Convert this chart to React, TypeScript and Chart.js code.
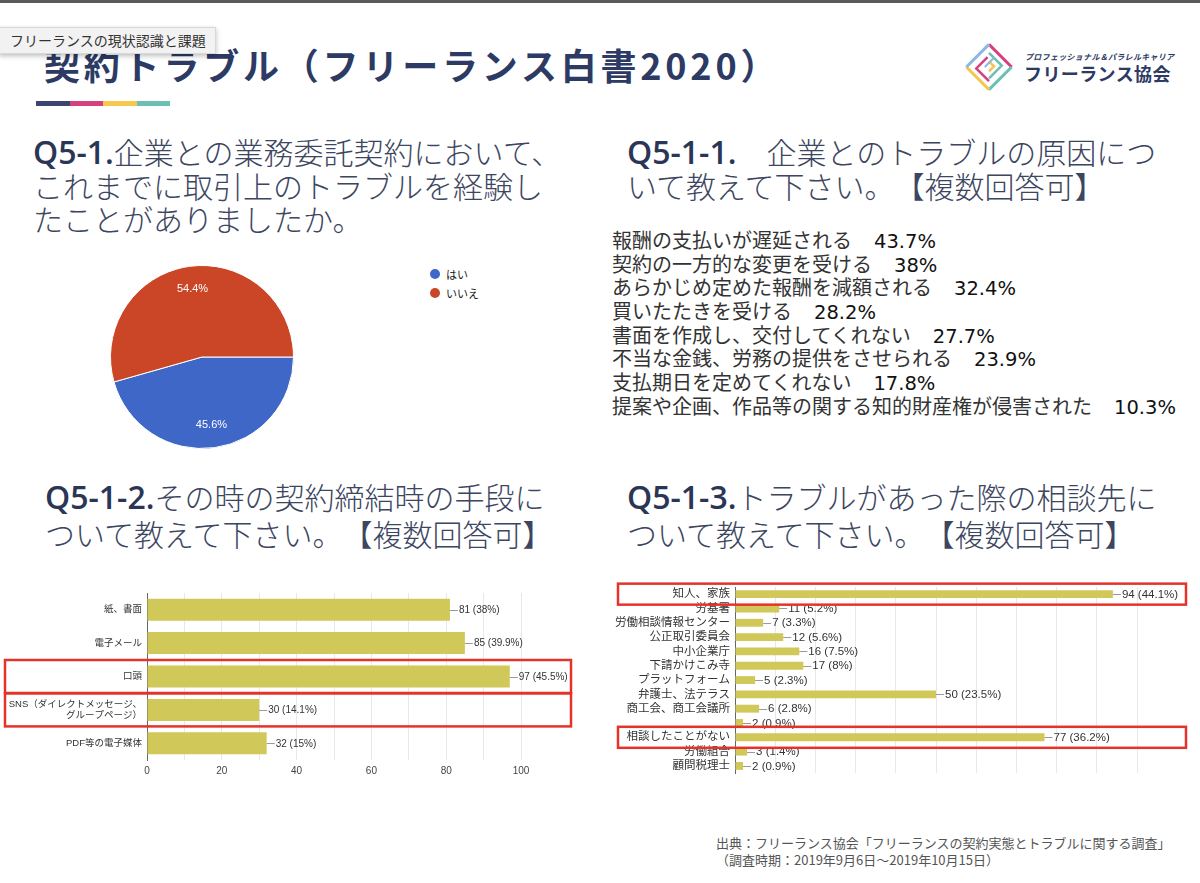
import React, { useEffect, useRef } from "react";
import { Chart, registerables } from "chart.js";
Chart.register(...registerables);

const pieLabels = ["はい", "いいえ"];
const pieValues = [45.6, 54.4];
const pieColors = ["#3e67c8", "#cb4527"];

const causeLabels = [
  "報酬の支払いが遅延される",
  "契約の一方的な変更を受ける",
  "あらかじめ定めた報酬を減額される",
  "買いたたきを受ける",
  "書面を作成し、交付してくれない",
  "不当な金銭、労務の提供をさせられる",
  "支払期日を定めてくれない",
  "提案や企画、作品等の関する知的財産権が侵害された",
];
const causePercents = ["43.7%", "38%", "32.4%", "28.2%", "27.7%", "23.9%", "17.8%", "10.3%"];

const methodLabels: (string | string[])[] = [
  "紙、書面",
  "電子メール",
  "口頭",
  ["SNS（ダイレクトメッセージ、", "グループページ）"],
  "PDF等の電子媒体",
];
const methodValues = [81, 85, 97, 30, 32];
const methodPercents = ["38%", "39.9%", "45.5%", "14.1%", "15%"];
const methodHighlights = [2, 3];

const consultLabels = [
  "知人、家族",
  "労基署",
  "労働相談情報センター",
  "公正取引委員会",
  "中小企業庁",
  "下請かけこみ寺",
  "プラットフォーム",
  "弁護士、法テラス",
  "商工会、商工会議所",
  "",
  "相談したことがない",
  "労働組合",
  "顧問税理士",
];
const consultValues = [94, 11, 7, 12, 16, 17, 5, 50, 6, 2, 77, 3, 2];
const consultPercents = ["44.1%", "5.2%", "3.3%", "5.6%", "7.5%", "8%", "2.3%", "23.5%", "2.8%", "0.9%", "36.2%", "1.4%", "0.9%"];
const consultHighlights = [0, 10];

const axisMax = 100;
const axisLabelStep = 20;
const gridStep = 10;

const CJK = '"Noto Sans CJK JP", sans-serif';
const LATIN_HEAD = '"Open Sans", "Noto Sans CJK JP", sans-serif';
const CHART_FONT = '"Liberation Sans", Arial, "Noto Sans CJK JP", sans-serif';
const BAR_COLOR = "#d1c85a";

const valueLabelPlugin = {
  id: "valueLabels",
  afterDatasetsDraw(chart: any, _args: any, opts: any) {
    const { ctx } = chart;
    const meta = chart.getDatasetMeta(0);
    const ds = chart.data.datasets[0];
    ctx.save();
    ctx.font = `${opts.size}px ${CHART_FONT}`;
    ctx.textBaseline = "middle";
    ctx.textAlign = "left";
    meta.data.forEach((el: any, i: number) => {
      const x = el.x;
      const y = el.y;
      ctx.strokeStyle = "#9a9a9a";
      ctx.lineWidth = 1;
      ctx.beginPath();
      ctx.moveTo(x, Math.round(y) + 0.5);
      ctx.lineTo(x + opts.lead, Math.round(y) + 0.5);
      ctx.stroke();
      ctx.fillStyle = "#333";
      ctx.fillText(`${ds.data[i]} (${opts.percents[i]})`, x + opts.lead + 1, y + 0.5);
    });
    ctx.restore();
  },
};

const boxPlugin = {
  id: "redBoxes",
  afterDraw(chart: any, _args: any, opts: any) {
    const { ctx } = chart;
    const yScale = chart.scales.y;
    ctx.save();
    ctx.strokeStyle = "#e5332a";
    ctx.lineWidth = 2.5;
    opts.indices.forEach((i: number) => {
      const y = yScale.getPixelForValue(i);
      ctx.strokeRect(opts.x0, y - opts.half, opts.x1 - opts.x0, opts.half * 2);
    });
    ctx.restore();
  },
};

const pieLabelPlugin = {
  id: "pieLabels",
  afterDatasetsDraw(chart: any) {
    const { ctx } = chart;
    const meta = chart.getDatasetMeta(0);
    const ds = chart.data.datasets[0];
    ctx.save();
    ctx.font = `11px ${CHART_FONT}`;
    ctx.fillStyle = "#ffffff";
    ctx.textAlign = "center";
    ctx.textBaseline = "middle";
    meta.data.forEach((el: any, i: number) => {
      const p = el.getProps(["x", "y", "startAngle", "endAngle", "outerRadius"], true);
      const mid = (p.startAngle + p.endAngle) / 2;
      const r = p.outerRadius * 0.75;
      ctx.fillText(`${ds.data[i]}%`, p.x + Math.cos(mid) * r, p.y + Math.sin(mid) * r);
    });
    ctx.restore();
  },
};

function barConfig(
  labels: any[],
  values: number[],
  percents: string[],
  highlights: number[],
  o: {
    yWidth: number;
    xHeight: number;
    padTop: number;
    padRight: number;
    labelSize: number;
    valueSize: number;
    barPct: number;
    showTicks: boolean;
    box: { x0: number; x1: number; half: number };
  }
): any {
  return {
    type: "bar",
    data: {
      labels,
      datasets: [
        {
          data: values,
          backgroundColor: BAR_COLOR,
          borderWidth: 0,
          categoryPercentage: 1,
          barPercentage: o.barPct,
        },
      ],
    },
    plugins: [valueLabelPlugin, boxPlugin],
    options: {
      indexAxis: "y",
      responsive: false,
      animation: false,
      layout: { padding: { top: o.padTop, right: o.padRight, left: 0, bottom: 0 } },
      plugins: {
        legend: { display: false },
        tooltip: { enabled: false },
        valueLabels: { percents, size: o.valueSize, lead: 8 },
        redBoxes: { indices: highlights, ...o.box },
      },
      scales: {
        x: {
          min: 0,
          max: axisMax,
          ticks: {
            display: o.showTicks,
            stepSize: gridStep,
            autoSkip: false,
            maxRotation: 0,
            padding: 5,
            color: "#444",
            font: { size: 10, family: CHART_FONT },
            callback: (v: any) => (Number(v) % axisLabelStep === 0 ? String(v) : ""),
          },
          grid: { color: "#e8e8e8", drawTicks: false },
          border: { display: false },
          afterFit: (s: any) => {
            s.height = o.xHeight;
          },
        },
        y: {
          ticks: {
            autoSkip: false,
            padding: 5,
            color: "#333",
            font: { size: o.labelSize, family: CHART_FONT },
          },
          grid: { display: false, drawTicks: false },
          border: { display: true, color: "#666", width: 1 },
          afterFit: (s: any) => {
            s.width = o.yWidth;
          },
        },
      },
    },
  };
}

const headingStyle: React.CSSProperties = {
  position: "absolute",
  fontFamily: CJK,
  fontSize: 30,
  fontWeight: 300,
  color: "#3c465f",
  whiteSpace: "pre",
  margin: 0,
};

function Heading(props: { prefix: string; lines: string[]; left: number; top: number; lh: number }) {
  return (
    <div style={{ ...headingStyle, left: props.left, top: props.top, lineHeight: `${props.lh}px` }}>
      {props.lines.map((ln, i) => (
        <div key={i}>
          {i === 0 ? (
            <span style={{ fontFamily: LATIN_HEAD, fontWeight: 600, fontSize: 32, color: "#2b3556" }}>
              {props.prefix}
            </span>
          ) : null}
          {ln}
        </div>
      ))}
    </div>
  );
}

function Logo() {
  return (
    <div style={{ position: "absolute", left: 962, top: 38, width: 220, height: 60 }}>
      <svg width="56" height="60" style={{ position: "absolute", left: 0, top: 0 }}>
        <g transform="translate(27,29) rotate(45)">
          <path d="M-16 -16 L16 -16" stroke="#d6407e" strokeWidth="3" fill="none" />
          <path d="M16 -16 L16 16" stroke="#6bbfb4" strokeWidth="3" fill="none" />
          <path d="M16 16 L-16 16" stroke="#f3c64e" strokeWidth="3" fill="none" />
          <path d="M-16 16 L-16 -16" stroke="#8db7e3" strokeWidth="3" fill="none" />
          <path d="M-10 -10 L8 -10 L8 8" stroke="#6bbfb4" strokeWidth="2.5" fill="none" />
          <path d="M10 10 L-8 10 L-8 -6" stroke="#d6407e" strokeWidth="2.5" fill="none" />
          <path d="M-4 -4 L3 -4 L3 3" stroke="#f3c64e" strokeWidth="2.5" fill="none" />
          <path d="M-3 -10 L-3 3" stroke="#8db7e3" strokeWidth="2" fill="none" />
        </g>
      </svg>
      <div
        style={{
          position: "absolute",
          left: 63,
          top: 13,
          fontFamily: CJK,
          fontWeight: 700,
          fontSize: 8,
          letterSpacing: 0.3,
          color: "#2d3a64",
          fontStyle: "italic",
          whiteSpace: "nowrap",
        }}
      >
        プロフェッショナル＆パラレルキャリア
      </div>
      <div
        style={{
          position: "absolute",
          left: 62,
          top: 23,
          fontFamily: CJK,
          fontWeight: 700,
          fontSize: 18,
          letterSpacing: 0.4,
          color: "#2d3a64",
          whiteSpace: "nowrap",
          lineHeight: "24px",
        }}
      >
        フリーランス協会
      </div>
    </div>
  );
}

export default function App() {
  const pieRef = useRef<HTMLCanvasElement>(null);
  const leftRef = useRef<HTMLCanvasElement>(null);
  const rightRef = useRef<HTMLCanvasElement>(null);

  useEffect(() => {
    const pie = new Chart(pieRef.current!, {
      type: "pie",
      data: {
        labels: pieLabels,
        datasets: [
          {
            data: pieValues,
            backgroundColor: pieColors,
            borderColor: "#ffffff",
            borderWidth: 1,
          },
        ],
      },
      plugins: [pieLabelPlugin],
      options: {
        responsive: false,
        animation: false,
        rotation: 90,
        layout: { padding: 0 },
        plugins: { legend: { display: false }, tooltip: { enabled: false } },
      },
    } as any);

    const left = new Chart(
      leftRef.current!,
      barConfig(methodLabels, methodValues, methodPercents, methodHighlights, {
        yWidth: 147,
        xHeight: 25,
        padTop: 13,
        padRight: 59,
        labelSize: 9.5,
        valueSize: 10,
        barPct: 0.66,
        showTicks: true,
        box: { x0: 5, x1: 571, half: 16.5 },
      })
    );

    const right = new Chart(
      rightRef.current!,
      barConfig(consultLabels, consultValues, consultPercents, consultHighlights, {
        yWidth: 135,
        xHeight: 8,
        padTop: 12,
        padRight: 63,
        labelSize: 11.5,
        valueSize: 11.5,
        barPct: 0.55,
        showTicks: false,
        box: { x0: 18, x1: 586, half: 10.5 },
      })
    );

    return () => {
      pie.destroy();
      left.destroy();
      right.destroy();
    };
  }, []);

  return (
    <div
      style={
        {
          position: "absolute",
          left: 0,
          top: 0,
          width: 1200,
          height: 883,
          background: "#ffffff",
          overflow: "hidden",
          fontFamily: CJK,
          textSpacingTrim: "space-all",
        } as any
      }
    >
      <div style={{ position: "absolute", left: 0, top: 0, width: 1200, height: 3, background: "#5a5a5a" }} />

      <div
        style={{
          position: "absolute",
          left: 44,
          top: 42,
          fontFamily: CJK,
          fontWeight: 700,
          fontSize: 36,
          letterSpacing: 3.8,
          color: "#2d3a64",
          whiteSpace: "nowrap",
          lineHeight: "44px",
        }}
      >
        契約トラブル（フリーランス白書2020）
      </div>

      <div
        style={{
          position: "absolute",
          left: -1,
          top: 27,
          height: 25,
          padding: "0 9px 0 10px",
          background: "#f2f2f2",
          border: "1px solid #d8d8d8",
          boxShadow: "0 2px 5px rgba(0,0,0,0.25)",
          fontFamily: CJK,
          fontSize: 14,
          lineHeight: "25px",
          color: "#333",
          whiteSpace: "nowrap",
        }}
      >
        フリーランスの現状認識と課題
      </div>

      <div style={{ position: "absolute", left: 36, top: 101, display: "flex", height: 5 }}>
        {["#3a4571", "#d6407e", "#f6c94c", "#6bbfb4"].map((c) => (
          <div key={c} style={{ width: 33.5, height: 5, background: c }} />
        ))}
      </div>

      <Logo />

      <Heading
        prefix="Q5-1."
        lines={["企業との業務委託契約において、", "これまでに取引上のトラブルを経験し", "たことがありましたか。"]}
        left={33}
        top={135}
        lh={33.5}
      />
      <Heading
        prefix="Q5-1-1."
        lines={["　企業とのトラブルの原因につ", "いて教えて下さい。【複数回答可】"]}
        left={627}
        top={135}
        lh={33.5}
      />
      <Heading
        prefix="Q5-1-2."
        lines={["その時の契約締結時の手段に", "ついて教えて下さい。【複数回答可】"]}
        left={45}
        top={478}
        lh={36}
      />
      <Heading
        prefix="Q5-1-3."
        lines={["トラブルがあった際の相談先に", "ついて教えて下さい。【複数回答可】"]}
        left={627}
        top={478}
        lh={36}
      />

      <div style={{ position: "absolute", left: 612, top: 228 }}>
        {causeLabels.map((l, i) => (
          <div key={l} style={{ height: 23.7, lineHeight: "23.7px", whiteSpace: "nowrap" }}>
            <span style={{ fontFamily: CJK, fontSize: 20, color: "#333", fontWeight: 400 }}>{l}</span>
            <span
              style={{
                fontFamily: '"DejaVu Sans", sans-serif',
                fontSize: 19.5,
                color: "#111",
                marginLeft: 22,
              }}
            >
              {causePercents[i]}
            </span>
          </div>
        ))}
      </div>

      <canvas
        ref={pieRef}
        width={184}
        height={184}
        style={{ position: "absolute", left: 110, top: 265, width: 184, height: 184 }}
      />
      <div style={{ position: "absolute", left: 430, top: 264 }}>
        {pieLabels.map((l, i) => (
          <div key={l} style={{ display: "flex", alignItems: "center", height: 19.5 }}>
            <div style={{ width: 10, height: 10, borderRadius: 5, background: pieColors[i] }} />
            <span style={{ marginLeft: 6, fontFamily: CHART_FONT, fontSize: 11, color: "#222" }}>{l}</span>
          </div>
        ))}
      </div>

      <canvas
        ref={leftRef}
        width={580}
        height={205}
        style={{ position: "absolute", left: 0, top: 580, width: 580, height: 205 }}
      />
      <canvas
        ref={rightRef}
        width={600}
        height={210}
        style={{ position: "absolute", left: 600, top: 575, width: 600, height: 210 }}
      />

      <div
        style={{
          position: "absolute",
          left: 716,
          top: 834,
          fontFamily: CJK,
          fontSize: 13,
          lineHeight: "17px",
          color: "#555",
          whiteSpace: "pre",
        }}
      >
        {"出典：フリーランス協会「フリーランスの契約実態とトラブルに関する調査」\n（調査時期：2019年9月6日～2019年10月15日）"}
      </div>
    </div>
  );
}
